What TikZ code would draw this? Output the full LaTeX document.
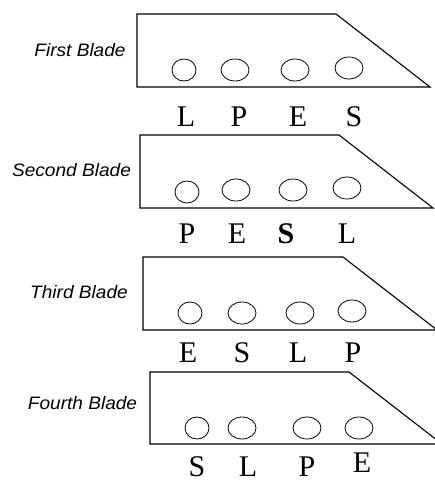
\documentclass[tikz,border=0pt]{standalone}
\usepackage{fontspec}
\setmainfont{Liberation Serif}
\newfontfamily\bladefont{Liberation Sans}
\begin{document}
\begin{tikzpicture}[x=1pt,y=-1pt,
  blade/.style={draw=black,line width=1.1pt,line join=miter},
  hole/.style={draw=black,line width=0.8pt},
  bladelabel/.style={font=\bladefont\itshape\fontsize{18}{20}\selectfont,xscale=1.06,inner sep=0pt},
  letter/.style={font=\fontsize{30}{32}\selectfont,anchor=base,inner sep=0pt,text depth=0pt}]
\useasboundingbox (0,0) rectangle (435,481);
\clip (0,0) rectangle (435,481);
\fill[white] (0,0) rectangle (435,481);
% First blade
\draw[blade] (137,14) -- (336,14) -- (430,87) -- (137,87) -- cycle;
\draw[hole] (184,70) ellipse [x radius=12,y radius=11];
\draw[hole] (235,70) ellipse [x radius=14,y radius=11];
\draw[hole] (295,70) ellipse [x radius=14,y radius=11];
\draw[hole] (349,68) ellipse [x radius=14,y radius=11];
\node[bladelabel] (t1) at (80,50) {First Blade};
\node[letter] (a1) at (186,127) {L};
\node[letter] (a2) at (239,127) {P};
\node[letter] (a3) at (298,127) {E};
\node[letter] (a4) at (354,127) {S};
% Second blade
\draw[blade] (140,135) -- (339,135) -- (433,208) -- (140,208) -- cycle;
\draw[hole] (187,192) ellipse [x radius=12,y radius=11];
\draw[hole] (236,190) ellipse [x radius=14,y radius=11];
\draw[hole] (293,190) ellipse [x radius=14,y radius=11];
\draw[hole] (347,188) ellipse [x radius=14,y radius=11];
\node[bladelabel] (t2) at (71.5,170) {Second Blade};
\node[letter] (b1) at (187,243) {P};
\node[letter] (b2) at (237,243) {E};
\node[letter] (b3) at (286,243) {\textbf{S}};
\node[letter] (b4) at (347,243) {L};
% Third blade
\draw[blade] (143,257) -- (343,257) -- (437,330) -- (143,330) -- cycle;
\draw[hole] (190,313) ellipse [x radius=12,y radius=11];
\draw[hole] (242,313) ellipse [x radius=14,y radius=11];
\draw[hole] (300,313) ellipse [x radius=14,y radius=11];
\draw[hole] (352,311) ellipse [x radius=14,y radius=11];
\node[bladelabel] (t3) at (79,292) {Third Blade};
\node[letter] (c1) at (188,362) {E};
\node[letter] (c2) at (242,362) {S};
\node[letter] (c3) at (298,362) {L};
\node[letter] (c4) at (353,362) {P};
% Fourth blade
\draw[blade] (150,372) -- (349,372) -- (442,444) -- (150,444) -- cycle;
\draw[hole] (197,428) ellipse [x radius=12,y radius=11];
\draw[hole] (242,428) ellipse [x radius=14,y radius=11];
\draw[hole] (307,428) ellipse [x radius=14,y radius=11];
\draw[hole] (359,428) ellipse [x radius=14,y radius=11];
\node[bladelabel] (t4) at (82.5,403) {Fourth Blade};
\node[letter] (d1) at (197,476) {S};
\node[letter] (d2) at (248,476) {L};
\node[letter] (d3) at (307,476) {P};
\node[letter] (d4) at (362,472) {E};
\end{tikzpicture}
\end{document}
